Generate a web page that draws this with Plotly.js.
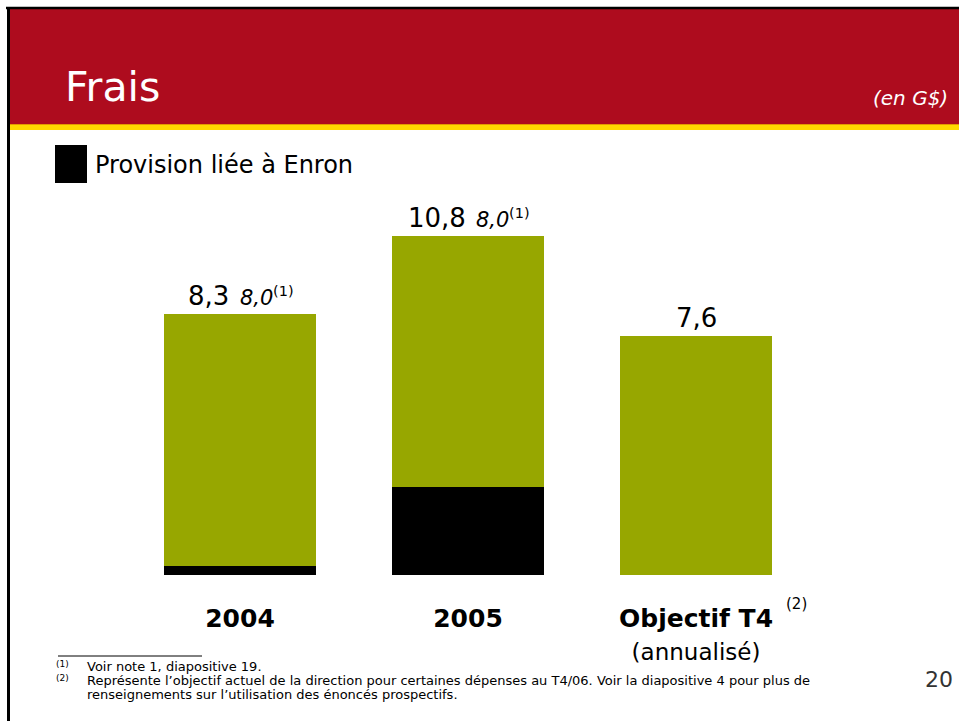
<!DOCTYPE html>
<html>
<head>
<meta charset="utf-8">
<script src="https://cdn.plot.ly/plotly-3.0.1.min.js"></script>
<style>html,body{margin:0;padding:0;background:#fff;}#chart{width:959px;height:721px;}</style>
</head>
<body>
<div id="chart"></div>
<script>
// ---- data ----
var categories = ['2004', '2005', 'Objectif T4'];
var enronProvision = [0.3, 2.8, 0];
var otherExpenses = [8.0, 8.0, 7.6];
var totalLabels = ['8,3', '10,8', '7,6'];
var adjustedLabels = ['8,0', '8,0', ''];
var noteMarks = ['(1)', '(1)', ''];
var tickLabels = ['<b>2004</b>', '<b>2005</b>',
  '<b>Objectif T4</b><br><span style="font-size:23px">(annualisé)</span>'];
var footnoteLines = [
  'Voir note 1, diapositive 19.',
  'Représente l\u2019objectif actuel de la direction pour certaines dépenses au T4/06. Voir la diapositive 4 pour plus de',
  'renseignements sur l\u2019utilisation des énoncés prospectifs.'
];

var W = 959, H = 721;
function px(x) { return x / W; }
function py(y) { return 1 - y / H; }

var FONT = 'DejaVu Sans, Verdana, sans-serif';
var RED = '#AE0C1E', OLIVE = '#97A700';

var ctx = document.createElement('canvas').getContext('2d');
function tw(text, size, style) {
  ctx.font = (style ? style + ' ' : '') + size + 'px "DejaVu Sans"';
  var w = ctx.measureText(text).width;
  return isFinite(w) && w > 0 ? w : text.length * size * 0.6;
}

var traces = [
  { type: 'bar', x: categories, y: enronProvision, marker: { color: '#000000' }, name: 'Provision liée à Enron', hoverinfo: 'skip' },
  { type: 'bar', x: categories, y: otherExpenses, marker: { color: OLIVE }, name: 'Frais', hoverinfo: 'skip' }
];

var annotations = [];
var TOT = 26, ADJ = 21, SUP = 14.5, GAP = 10;
for (var i = 0; i < categories.length; i++) {
  var total = enronProvision[i] + otherExpenses[i];
  var wA = tw(totalLabels[i], TOT);
  if (adjustedLabels[i]) {
    var wB = tw(adjustedLabels[i], ADJ, 'italic');
    var wC = tw(noteMarks[i], SUP);
    var group = wA + GAP + wB + wC;
    var x0 = -group / 2;
    annotations.push({ x: i, y: total, xref: 'x', yref: 'y', text: totalLabels[i], showarrow: false,
      xanchor: 'left', xshift: x0 - 1, yanchor: 'bottom', yshift: 1,
      font: { family: FONT, size: TOT, color: '#000' } });
    annotations.push({ x: i, y: total, xref: 'x', yref: 'y', text: adjustedLabels[i], showarrow: false,
      xanchor: 'left', xshift: x0 + wA + GAP - 1, yanchor: 'bottom', yshift: 2,
      font: { family: FONT, size: ADJ, color: '#000', style: 'italic' } });
    annotations.push({ x: i, y: total, xref: 'x', yref: 'y', text: noteMarks[i], showarrow: false,
      xanchor: 'left', xshift: x0 + wA + GAP + wB - 1, yanchor: 'bottom', yshift: 13,
      font: { family: FONT, size: SUP, color: '#000' } });
  } else {
    annotations.push({ x: i, y: total, xref: 'x', yref: 'y', text: totalLabels[i], showarrow: false,
      yanchor: 'bottom', yshift: 1, font: { family: FONT, size: TOT, color: '#000' } });
  }
}
// superscript on last category label
annotations.push({ xref: 'paper', yref: 'paper', x: px(784), y: py(604), xanchor: 'left', yanchor: 'middle',
  text: '(2)', showarrow: false, font: { family: FONT, size: 15, color: '#000' } });
// header texts
annotations.push({ xref: 'paper', yref: 'paper', x: px(63), y: py(87), xanchor: 'left', yanchor: 'middle',
  text: 'Frais', showarrow: false, font: { family: FONT, size: 41, color: '#fff' } });
annotations.push({ xref: 'paper', yref: 'paper', x: px(950), y: py(98), xanchor: 'right', yanchor: 'middle',
  text: '(en G$)', showarrow: false, font: { family: FONT, size: 20, color: '#fff', style: 'italic' } });
// legend text
annotations.push({ xref: 'paper', yref: 'paper', x: px(93), y: py(165), xanchor: 'left', yanchor: 'middle',
  text: 'Provision liée à Enron', showarrow: false, font: { family: FONT, size: 24, color: '#000' } });
// footnotes
var FN = 13;
annotations.push({ xref: 'paper', yref: 'paper', x: px(54), y: py(664), xanchor: 'left', yanchor: 'middle',
  text: '(1)', showarrow: false, font: { family: FONT, size: 9, color: '#000' } });
annotations.push({ xref: 'paper', yref: 'paper', x: px(54), y: py(678), xanchor: 'left', yanchor: 'middle',
  text: '(2)', showarrow: false, font: { family: FONT, size: 9, color: '#000' } });
var fnY = [666, 680, 694];
for (var k = 0; k < footnoteLines.length; k++) {
  annotations.push({ xref: 'paper', yref: 'paper', x: px(85), y: py(fnY[k]), xanchor: 'left', yanchor: 'middle',
    text: footnoteLines[k], showarrow: false, font: { family: FONT, size: FN, color: '#000' } });
}
annotations.push({ xref: 'paper', yref: 'paper', x: px(955), y: py(679), xanchor: 'right', yanchor: 'middle',
  text: '20', showarrow: false, font: { family: FONT, size: 22, color: '#333' } });

var shapes = [
  { type: 'rect', xref: 'paper', yref: 'paper', x0: px(9), x1: 1.01, y0: py(124), y1: py(9), fillcolor: RED, line: { width: 0 }, layer: 'below' },
  { type: 'rect', xref: 'paper', yref: 'paper', x0: px(9), x1: 1.01, y0: py(125), y1: py(124), fillcolor: '#E39A00', line: { width: 0 }, layer: 'below' },
  { type: 'rect', xref: 'paper', yref: 'paper', x0: px(9), x1: 1.01, y0: py(130), y1: py(125), fillcolor: '#FFD800', line: { width: 0 }, layer: 'below' },
  { type: 'line', xref: 'paper', yref: 'paper', x0: px(6), x1: 1.01, y0: py(8), y1: py(8), line: { color: '#000', width: 2.5 } },
  { type: 'line', xref: 'paper', yref: 'paper', x0: px(8.5), x1: px(8.5), y0: py(7), y1: -0.01, line: { color: '#000', width: 3 } },
  { type: 'rect', xref: 'paper', yref: 'paper', x0: px(55), x1: px(87), y0: py(183), y1: py(145), fillcolor: '#000', line: { width: 0 } },
  { type: 'line', xref: 'paper', yref: 'paper', x0: px(58), x1: px(202), y0: py(656), y1: py(656), line: { color: '#000', width: 1 } }
];

var layout = {
  width: W, height: H,
  margin: { l: 0, r: 0, t: 0, b: 0 },
  paper_bgcolor: '#fff', plot_bgcolor: 'rgba(0,0,0,0)',
  barmode: 'stack', bargap: 1 / 3,
  showlegend: false,
  xaxis: {
    domain: [px(126), px(810)], range: [-0.5, 2.5], type: 'category',
    tickvals: categories, ticktext: tickLabels,
    tickfont: { family: FONT, size: 25, color: '#000' },
    showgrid: false, zeroline: false, showline: false,
    ticks: '', ticklabelstandoff: 26, fixedrange: true
  },
  yaxis: {
    domain: [py(575), py(198)], range: [0, 12], visible: false, fixedrange: true
  },
  annotations: annotations,
  shapes: shapes
};

Plotly.newPlot('chart', traces, layout, { displayModeBar: false, staticPlot: true });
</script>
</body>
</html>
